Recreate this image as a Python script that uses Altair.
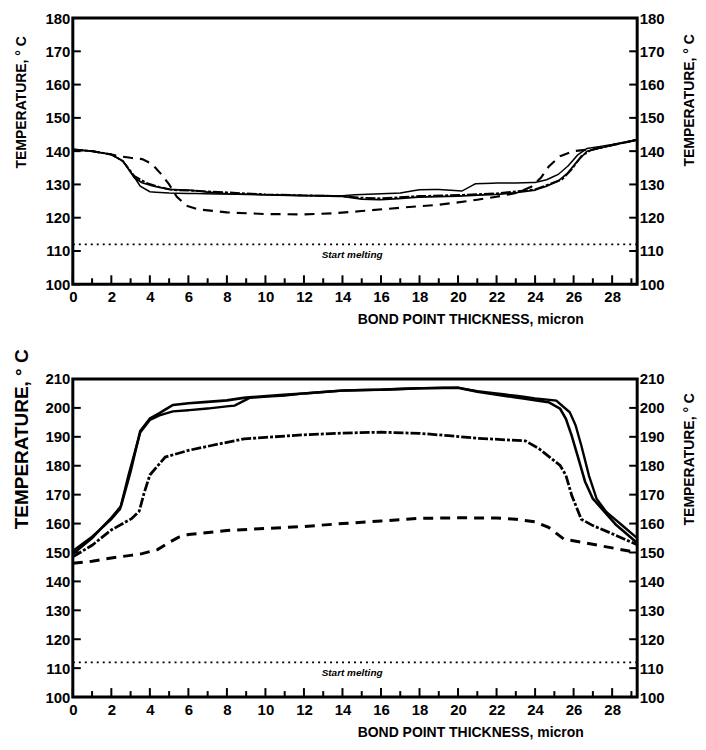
import altair as alt
import pandas as pd

# ---------------- data: upper panel ----------------
top_names = ["A", "B", "C", "D"]
top_a_x = [0, 1, 2, 2.6, 3.1, 3.5, 4.0, 5, 6, 8, 10, 12, 14, 15, 16, 17, 18, 19, 20.2, 20.9, 22, 23, 24, 24.6, 25.2, 25.7, 26.2, 26.7, 28, 29.3]
top_a_t = [140.5, 140.0, 139.0, 137.0, 133.0, 129.5, 127.8, 127.4, 127.3, 127.1, 126.9, 126.7, 126.6, 127.0, 127.2, 127.4, 128.4, 128.5, 128.0, 130.2, 130.4, 130.4, 130.6, 131.4, 133.0, 135.5, 138.8, 140.8, 142.0, 143.4]
top_b_x = [0, 1, 2, 2.6, 3.2, 3.6, 4.2, 5, 6, 7, 8, 10, 12, 14, 15, 16, 18, 20, 22, 23, 24, 24.6, 25.2, 25.7, 26.2, 26.7, 28, 29.3]
top_b_t = [140.5, 140.0, 139.0, 137.0, 132.0, 130.5, 129.5, 128.5, 128.3, 127.7, 127.2, 126.9, 126.6, 126.4, 125.6, 125.4, 126.2, 126.5, 127.0, 127.5, 128.3, 129.5, 131.0, 133.5, 137.0, 140.0, 141.8, 143.4]
top_c_x = [0, 1, 2, 2.6, 3.2, 3.8, 4.5, 5.2, 6, 8, 10, 12, 14, 15, 16, 18, 20, 22, 24, 24.8, 25.4, 25.9, 26.4, 26.9, 28, 29.3]
top_c_t = [140.5, 140.0, 139.0, 137.0, 132.5, 130.5, 129.2, 128.3, 128.2, 127.6, 127.0, 126.7, 126.5, 126.0, 125.8, 126.5, 126.8, 127.3, 128.5, 130.2, 131.5, 134.5, 138.5, 140.3, 141.8, 143.4]
top_d_x = [0, 1, 2, 2.5, 3, 3.6, 4.1, 4.6, 5.0, 5.4, 5.9, 6.5, 8, 10, 12, 13.5, 15, 17, 19, 20, 21, 22, 23, 23.8, 24.3, 24.7, 25.3, 26, 27, 28, 29.3]
top_d_t = [140.5, 140.0, 139.0, 138.4, 138.0, 137.6, 136.2, 133.0, 130.0, 126.3, 123.6, 122.5, 121.6, 121.1, 121.0, 121.3, 122.0, 123.0, 123.9, 124.6, 125.4, 126.3, 127.4, 129.3, 132.0, 135.3, 138.5, 140.0, 140.6, 141.8, 143.4]

# ---------------- data: lower panel ----------------
bot_names = ["P1", "P2", "P3", "P4"]
bot_1_x = [0, 1, 2, 2.45, 2.9, 3.5, 4, 4.5, 5.2, 6, 7, 8.4, 9.2, 11, 12, 14, 16, 18, 20, 21, 23, 24, 25.1, 25.8, 26.1, 26.4, 26.8, 27.2, 27.7, 28.5, 29.3]
bot_1_t = [150.5, 155.5, 161.5, 165.0, 177.0, 191.5, 195.8, 197.4, 198.8, 199.2, 199.8, 200.8, 203.5, 204.3, 205.0, 206.0, 206.3, 206.8, 207.0, 205.8, 204.2, 203.3, 202.5, 198.5, 194.0, 187.0, 176.5, 168.5, 164.0, 159.5, 155.0]
bot_2_x = [0, 1, 2, 2.5, 3.0, 3.5, 4, 4.5, 5.2, 6, 8, 9, 12, 14, 16, 18, 20, 21, 23, 24.7, 25.3, 25.6, 25.9, 26.3, 26.6, 27.0, 28.2, 29.3]
bot_2_t = [149.5, 155.0, 162.0, 166.0, 178.0, 192.0, 196.3, 198.2, 201.0, 201.6, 202.6, 203.6, 205.0, 206.0, 206.3, 206.8, 207.0, 205.6, 203.6, 202.0, 199.7, 196.2, 190.4, 181.3, 174.4, 168.6, 159.6, 153.3]
bot_3_x = [0, 1, 2, 3.05, 3.45, 3.7, 4.0, 4.8, 6, 7.2, 8.9, 10, 12, 14, 16, 18, 19.5, 21, 23.5, 24.2, 25.3, 25.6, 25.9, 26.4, 27, 28, 29.3]
bot_3_t = [148.5, 152.5, 157.8, 161.7, 164.3, 170.5, 176.8, 183.0, 185.3, 187.0, 189.3, 189.8, 190.7, 191.3, 191.6, 191.2, 190.4, 189.5, 188.6, 185.9, 180.1, 176.7, 169.8, 161.5, 159.3, 156.5, 152.7]
bot_4_x = [0, 1, 2, 3, 3.6, 4.4, 5.0, 5.5, 6, 8, 10, 12, 14, 16, 18, 20, 22, 23, 24, 24.7, 25.5, 26.2, 27.5, 29.3]
bot_4_t = [146.3, 147.0, 148.1, 149.0, 149.6, 151.0, 153.5, 155.3, 156.2, 157.6, 158.3, 159.0, 160.0, 160.9, 161.8, 162.0, 161.9, 161.5, 160.6, 158.7, 154.6, 153.8, 152.2, 150.0]

melt_t = [112]
melt_label = ["Start melting"]
melt_label_x = [14.5]
x_major = list(range(0, 30, 2))
x_minor = list(range(1, 30, 2))
x_min = 0
x_max = 29.3
y_min = 100

FONT = "Liberation Sans"
TICK_COLOR = "black"


def frame(names, xs, ts):
    rows = []
    for n, xx, tt in zip(names, xs, ts):
        for a, b in zip(xx, tt):
            rows.append({"x": a, "T": b, "s": n})
    return pd.DataFrame(rows)


top_df = frame(top_names, [top_a_x, top_b_x, top_c_x, top_d_x], [top_a_t, top_b_t, top_c_t, top_d_t])
bot_df = frame(bot_names, [bot_1_x, bot_2_x, bot_3_x, bot_4_x], [bot_1_t, bot_2_t, bot_3_t, bot_4_t])

X_TITLE = "BOND POINT  THICKNESS, micron"
Y_TITLE = "TEMPERATURE,   \u00b0 C"


def x_axis(title_y):
    return alt.Axis(
        orient="bottom",
        values=x_major,
        domain=False,
        ticks=False,
        tickSize=0,
        labelPadding=5,
        labelFlush=False,
        labelOverlap=False,
        title=X_TITLE,
        titleX=512,
        titleY=title_y,
        titleAlign="right",
        titleBaseline="middle",
    )


def panel(df, names, dashes, widths, ymax, h, lt_y, lt_size, rt_y, xt_y):
    xscale = alt.Scale(domain=[x_min, x_max], nice=False, zero=False)
    yscale = alt.Scale(domain=[y_min, ymax], nice=False, zero=False)
    yvals = list(range(y_min, ymax + 1, 10))
    xax = x_axis(xt_y)
    left_axis = alt.Axis(
        orient="left", values=yvals, domain=False, ticks=False, tickSize=0, labelPadding=3,
        title=Y_TITLE, titleAngle=270, titleX=-51, titleY=lt_y, titleAlign="center",
        titleBaseline="middle", titleFontSize=lt_size,
    )
    right_axis = alt.Axis(
        orient="right", values=yvals, domain=False, ticks=False, tickSize=0, labelPadding=2,
        title=Y_TITLE, titleAngle=270, titleX=52, titleY=rt_y, titleAlign="center",
        titleBaseline="middle",
    )
    X = lambda: alt.X("x:Q", scale=xscale, axis=xax)

    lines = alt.Chart(df).mark_line(color="black", strokeCap="butt").encode(
        x=X(),
        y=alt.Y("T:Q", scale=yscale, axis=left_axis),
        strokeDash=alt.StrokeDash("s:N", scale=alt.Scale(domain=names, range=dashes), legend=None),
        strokeWidth=alt.StrokeWidth("s:N", scale=alt.Scale(domain=names, range=widths), legend=None),
        detail="s:N",
    )
    rule = alt.Chart(pd.DataFrame({"T": melt_t})).mark_rule(
        color="black", strokeDash=[2, 4], strokeWidth=1.6
    ).encode(y=alt.Y("T:Q", scale=yscale, axis=right_axis))
    text = alt.Chart(pd.DataFrame({"x": melt_label_x, "T": melt_t, "label": melt_label})).mark_text(
        font=FONT, fontSize=10, fontStyle="italic", fontWeight="bold", dy=11,
        align="center", baseline="middle", color="black",
    ).encode(
        x=X(),
        y=alt.Y("T:Q", scale=yscale, axis=None),
        text="label:N",
    )
    # inward-pointing tick marks along the frame
    xdf_maj = pd.DataFrame({"x": x_major, "b": [y_min] * len(x_major)})
    xdf_min = pd.DataFrame({"x": x_minor, "b": [y_min] * len(x_minor)})
    xmaj = alt.Chart(xdf_maj).mark_tick(
        orient="vertical", size=9, thickness=2, yOffset=-4.5, color=TICK_COLOR, opacity=1
    ).encode(x=X(), y=alt.Y("b:Q", scale=yscale, axis=None))
    xmin_t = alt.Chart(xdf_min).mark_tick(
        orient="vertical", size=6, thickness=2, yOffset=-3, color=TICK_COLOR, opacity=1
    ).encode(x=X(), y=alt.Y("b:Q", scale=yscale, axis=None))
    ydf = pd.DataFrame({"T": yvals, "x0": [x_min] * len(yvals), "x1": [x_max] * len(yvals)})
    yl = alt.Chart(ydf).mark_tick(
        orient="horizontal", size=8, thickness=2, xOffset=4, color=TICK_COLOR, opacity=1
    ).encode(x=alt.X("x0:Q", scale=xscale, axis=xax), y=alt.Y("T:Q", scale=yscale, axis=None))
    yr = alt.Chart(ydf).mark_tick(
        orient="horizontal", size=8, thickness=2, xOffset=-4, color=TICK_COLOR, opacity=1
    ).encode(x=alt.X("x1:Q", scale=xscale, axis=xax), y=alt.Y("T:Q", scale=yscale, axis=None))

    return alt.layer(lines, rule, text, xmaj, xmin_t, yl, yr).resolve_axis(
        y="independent"
    ).properties(width=566, height=h)


top = panel(
    top_df, top_names,
    [[20, 0], [20, 0], [10, 2, 3, 2], [10, 7]],
    [1.5, 3.0, 3.5, 2.2],
    180, 267, 84, 14, 82, 35,
)
bottom = panel(
    bot_df, bot_names,
    [[20, 0], [12, 3, 3, 3], [16, 4, 4, 4], [10, 7]],
    [2.2, 2.2, 2.0, 2.2],
    210, 319, 60, 19, 80, 36,
)

chart = alt.vconcat(top, bottom, spacing=14).properties(
    padding={"left": 3, "top": 0, "right": 0, "bottom": 0},
    background="white",
).configure_view(
    stroke="black", strokeWidth=3
).configure_axis(
    grid=False,
    labelColor="black", labelFont=FONT, labelFontSize=15, labelFontWeight="bold",
    titleColor="black", titleFont=FONT, titleFontSize=14, titleFontWeight="bold",
)

chart.save("out.html", embed_options={"renderer": "svg", "actions": False})
